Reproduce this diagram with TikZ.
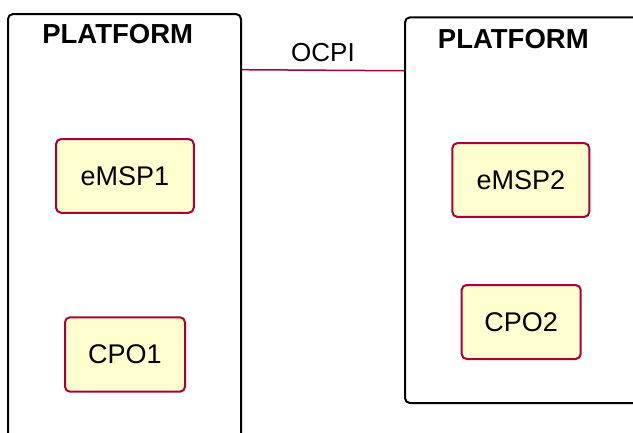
\documentclass[tikz,border=0pt]{standalone}
\usepackage{fontspec}
\setmainfont{Liberation Sans}
\usetikzlibrary{positioning}

\definecolor{umlred}{HTML}{A80036}
\definecolor{umlfill}{HTML}{FEFECE}

\begin{document}
\begin{tikzpicture}[
  x=1pt, y=-1pt,
  platform/.style={
    draw=black,
    rectangle,
    rounded corners=5pt,
    line width=2pt,
    inner sep=0pt
  },
  title/.style={
    font=\fontsize{27.5}{30}\selectfont\bfseries,
    inner sep=0pt
  },
  comp/.style={
    draw=umlred,
    fill=umlfill,
    rectangle,
    rounded corners=5pt,
    line width=2pt,
    align=center,
    font=\fontsize{27}{30}\selectfont,
    inner sep=0pt
  },
  link/.style={
    draw=umlred,
    line width=1.5pt
  }
]

\useasboundingbox (0,0) rectangle (633,432);
\clip (0,0) rectangle (633,432);

% Nodes
\node[platform, minimum width=233pt, minimum height=456pt] (plat1) at (124.5,242) {};
\node[platform, minimum width=255pt, minimum height=385.7pt] (plat2) at (532.5,210.2) {};

\node[title] (title1) at (117.7,34.5) {PLATFORM};
\node[title] (title2) at (513.3,38.7) {PLATFORM};

\node[comp, minimum width=137.7pt, minimum height=73.7pt] (emsp1) at (124.9,175.9) {eMSP1};
\node[comp, minimum width=120pt, minimum height=74.4pt] (cpo1) at (125,354.5) {CPO1};
\node[comp, minimum width=137pt, minimum height=73.7pt] (emsp2) at (520.8,180) {eMSP2};
\node[comp, minimum width=119pt, minimum height=74pt] (cpo2) at (521.2,322) {CPO2};

% Connector
\draw[link] ([yshift=-56.7pt]plat1.north east) -- node[above=8pt, font=\fontsize{26}{28}\selectfont, inner sep=0pt] (ocpi) {OCPI} ([yshift=-54.4pt]plat2.north west);

\end{tikzpicture}
\end{document}
